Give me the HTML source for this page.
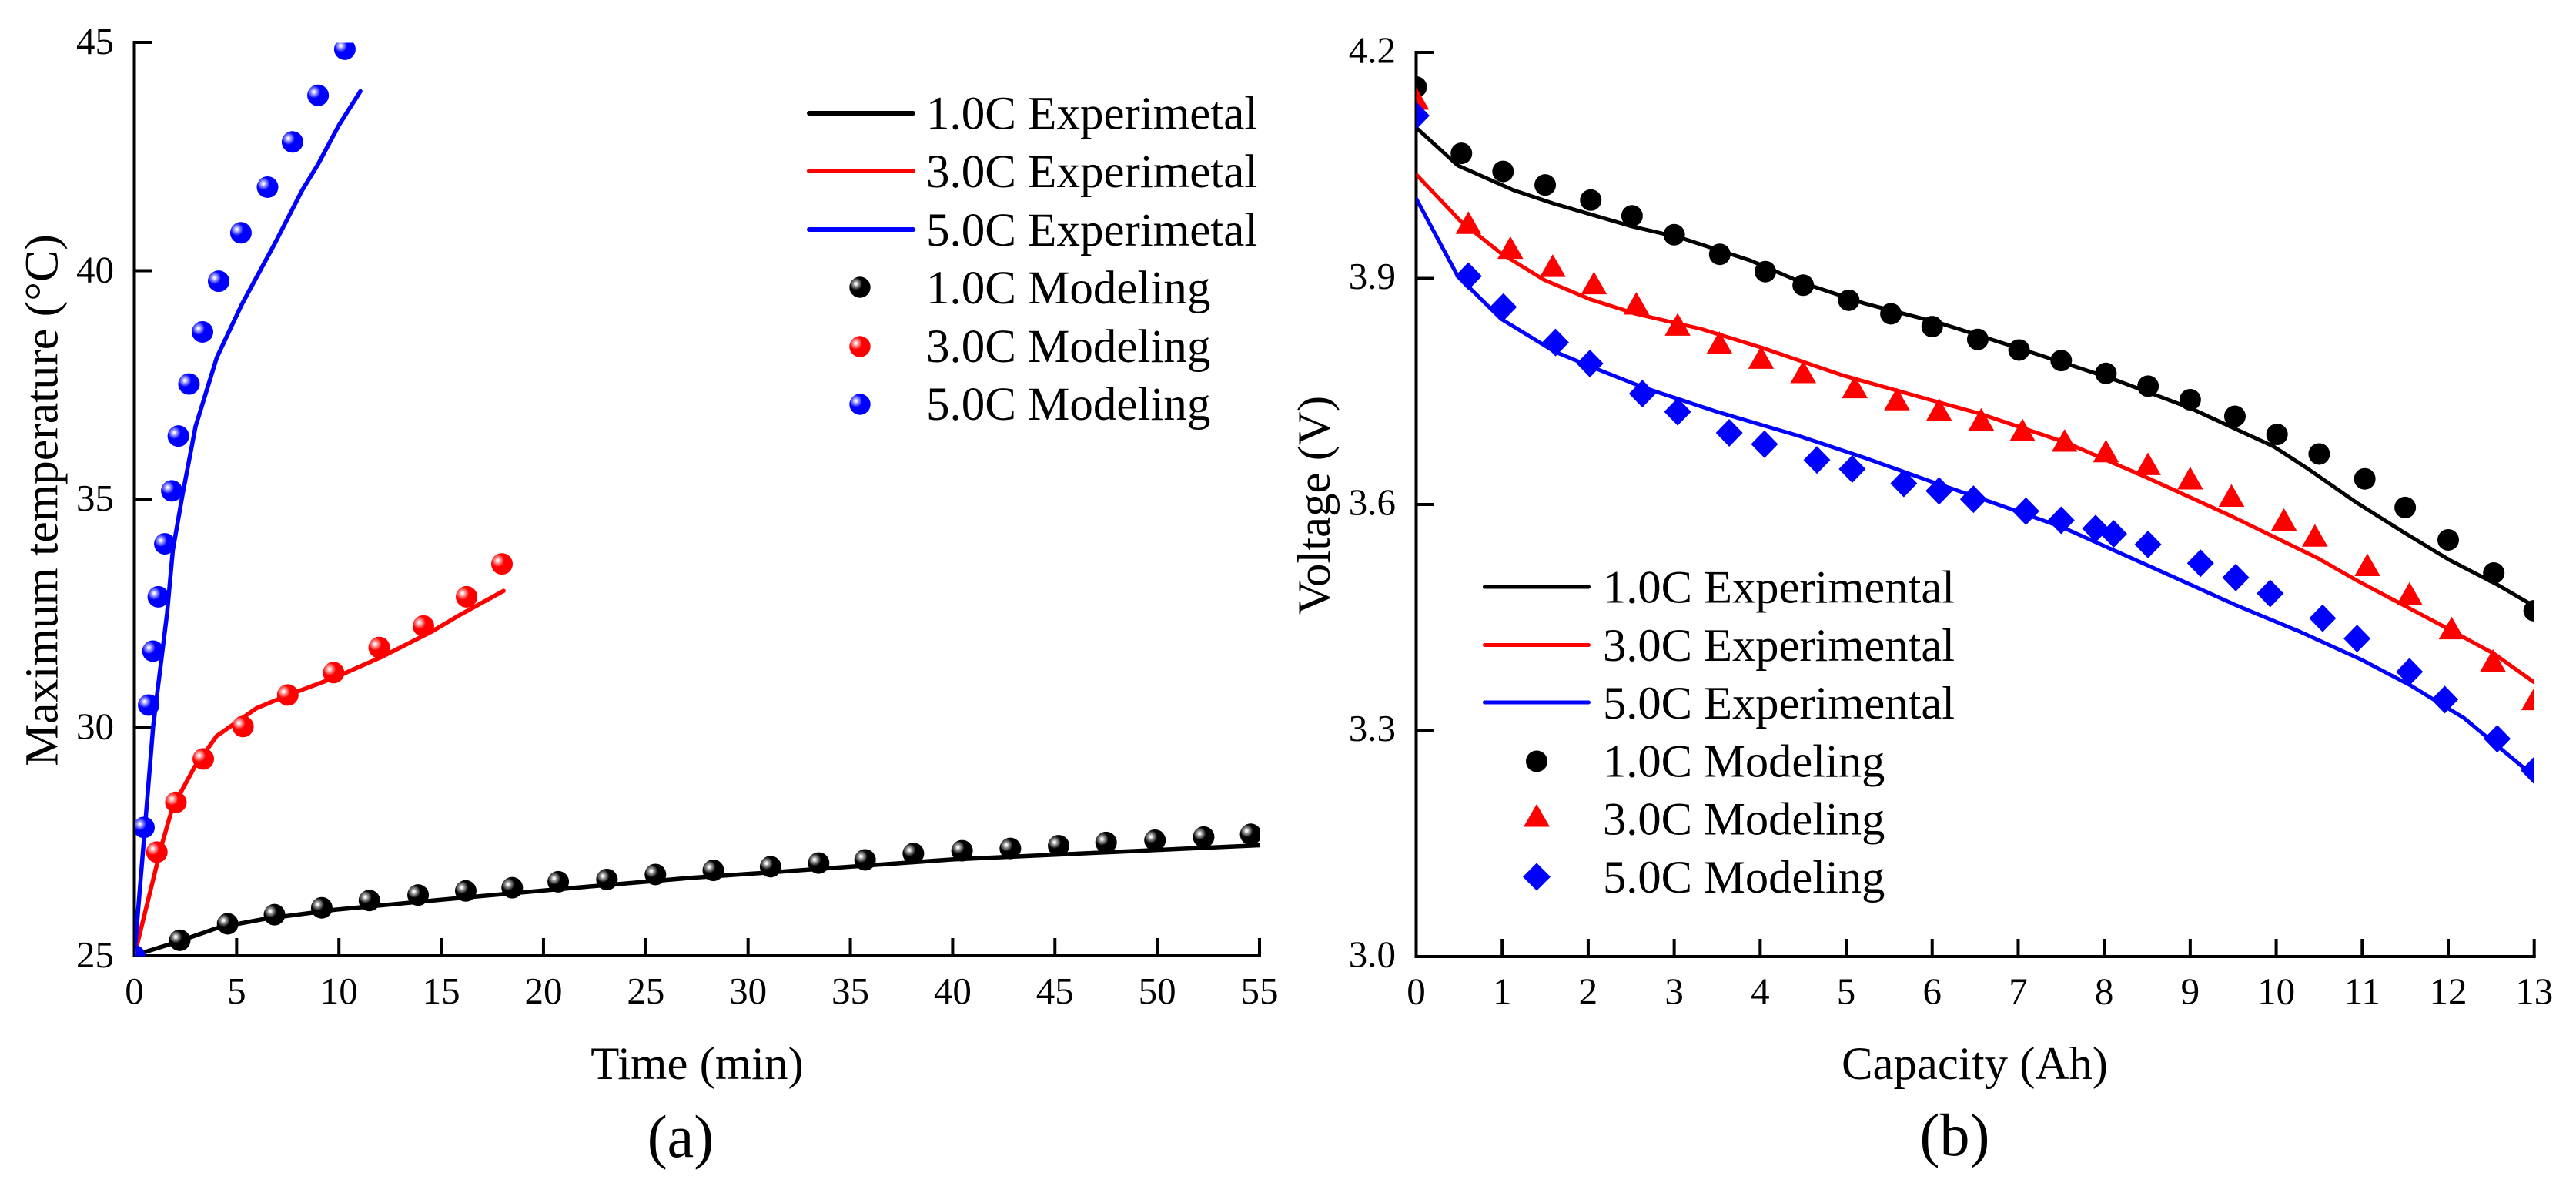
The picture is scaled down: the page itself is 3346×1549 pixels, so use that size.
<!DOCTYPE html>
<html lang="en">
<head>
<meta charset="utf-8">
<title>Temperature and voltage: experimental vs modeling</title>
<style>
html,body{margin:0;padding:0;background:#fff;width:3346px;height:1549px;overflow:hidden}
svg{display:block}
text{font-family:"Liberation Serif","Times New Roman",serif;fill:#000}
.tick{font-size:49px}
.title{font-size:60.8px}
.ytitle{font-size:61.8px}
.leg{font-size:61px}
.legb{font-size:60.5px}
.cap{font-size:78px}
</style>
</head>
<body>
<svg id="fig" xmlns="http://www.w3.org/2000/svg" width="3346" height="1549" viewBox="0 0 3346 1549">
<defs>
<radialGradient id="sphere-black" cx=".31" cy=".34" r=".62">
<stop offset="0" stop-color="#fff"/><stop offset=".09" stop-color="#eee"/><stop offset=".2" stop-color="#999"/><stop offset=".36" stop-color="#4a4a4a"/><stop offset=".48" stop-color="#000"/><stop offset="1" stop-color="#000"/>
</radialGradient>
<radialGradient id="sphere-red" cx=".31" cy=".34" r=".62">
<stop offset="0" stop-color="#fff"/><stop offset=".09" stop-color="#ffe8e8"/><stop offset=".2" stop-color="#ff9c9c"/><stop offset=".36" stop-color="#ff4a4a"/><stop offset=".48" stop-color="#f00"/><stop offset="1" stop-color="#f00"/>
</radialGradient>
<radialGradient id="sphere-blue" cx=".31" cy=".34" r=".62">
<stop offset="0" stop-color="#fff"/><stop offset=".09" stop-color="#e8e8ff"/><stop offset=".2" stop-color="#9c9cff"/><stop offset=".36" stop-color="#4a4aff"/><stop offset=".48" stop-color="#00f"/><stop offset="1" stop-color="#00f"/>
</radialGradient>
<clipPath id="clip-a"><rect x="175" y="55.5" width="1462" height="1186"/></clipPath>
<clipPath id="clip-b"><rect x="1839.5" y="68" width="1452.5" height="1174"/></clipPath>
</defs>

<g id="panel-a">
<text class="ytitle" transform="translate(74.5 649.5) rotate(-90)" text-anchor="middle">Maximum temperature (°C)</text>
<text class="title" x="905.5" y="1401" text-anchor="middle">Time (min)</text>
<text class="cap" x="884" y="1502" text-anchor="middle">(a)</text>
<g>
<g><line x1="1051" x2="1186" y1="147" y2="147" stroke="#000" stroke-width="6" stroke-linecap="round"/><text class="leg" x="1203" y="167.5">1.0C Experimetal</text></g>
<g><line x1="1051" x2="1186" y1="222" y2="222" stroke="#f00" stroke-width="6" stroke-linecap="round"/><text class="leg" x="1203" y="243">3.0C Experimetal</text></g>
<g><line x1="1051" x2="1186" y1="298" y2="298" stroke="#00f" stroke-width="6" stroke-linecap="round"/><text class="leg" x="1203" y="319">5.0C Experimetal</text></g>
<g><circle cx="1117" cy="373" r="13.7" fill="url(#sphere-black)"/><text class="leg" x="1203" y="394">1.0C Modeling</text></g>
<g><circle cx="1117" cy="450" r="13.7" fill="url(#sphere-red)"/><text class="leg" x="1203" y="470">3.0C Modeling</text></g>
<g><circle cx="1117" cy="525" r="13.7" fill="url(#sphere-blue)"/><text class="leg" x="1203" y="545">5.0C Modeling</text></g>
</g>
</g>

<g id="panel-b">
<text class="title" transform="translate(1727 656) rotate(-90)" text-anchor="middle">Voltage (V)</text>
<text class="title" x="2565" y="1401" text-anchor="middle">Capacity (Ah)</text>
<text class="cap" x="2539" y="1500" text-anchor="middle">(b)</text>
<g>
<g><line x1="1928.5" x2="2063.5" y1="762" y2="762" stroke="#000" stroke-width="5" stroke-linecap="round"/><text class="legb" x="2082" y="782.5">1.0C Experimental</text></g>
<g><line x1="1928.5" x2="2063.5" y1="837.5" y2="837.5" stroke="#f00" stroke-width="5" stroke-linecap="round"/><text class="legb" x="2082" y="858">3.0C Experimental</text></g>
<g><line x1="1928.5" x2="2063.5" y1="912" y2="912" stroke="#00f" stroke-width="5" stroke-linecap="round"/><text class="legb" x="2082" y="933">5.0C Experimental</text></g>
<g><circle cx="1996" cy="988.5" r="14" fill="#000"/><text class="legb" x="2082" y="1008.5">1.0C Modeling</text></g>
<g><polygon points="1996,1044 2013,1073.5 1979,1073.5" fill="#f00"/><text class="legb" x="2082" y="1083.5">3.0C Modeling</text></g>
<g><polygon points="1996,1120.5 2014,1138.5 1996,1156.5 1978,1138.5" fill="#00f"/><text class="legb" x="2082" y="1159">5.0C Modeling</text></g>
</g>
</g>
</svg>

<script>
/* Panel (a): time (min) vs maximum temperature (°C) */
const aXTicks = [0, 5, 10, 15, 20, 25, 30, 35, 40, 45, 50, 55];
const aYTicks = [25, 30, 35, 40, 45];

const aLine1T = [0, 0.5, 2.07, 4.13, 6.39, 9.85, 15.04, 20, 27.3, 31.2, 40, 55];
const aLine1Y = [25, 25.08, 25.3, 25.62, 25.81, 26.01, 26.23, 26.43, 26.71, 26.83, 27.11, 27.42];
const aLine3T = [0, 1.32, 1.86, 2.94, 4.02, 5.97, 7.47, 9.84, 12.12, 14.5, 15.9, 18.05];
const aLine3Y = [25, 27.4, 28.24, 29.13, 29.81, 30.42, 30.7, 31.1, 31.55, 32.09, 32.46, 32.99];
const aLine5T = [0, 0.56, 0.92, 1.6, 1.88, 2.35, 2.99, 4.03, 5.25, 6.87, 8.19, 8.98, 9.99, 11.05];
const aLine5Y = [25, 28.05, 30.02, 32.5, 33.88, 35.08, 36.59, 38.1, 39.26, 40.6, 41.75, 42.33, 43.18, 43.93];

const aModel1T = [0, 2.22, 4.56, 6.85, 9.16, 11.49, 13.87, 16.2, 18.47, 20.72, 23.1, 25.47, 28.3, 31.1, 33.45, 35.72, 38.08, 40.46, 42.82, 45.18, 47.5, 49.89, 52.27, 54.57];
const aModel1Y = [25, 25.34, 25.7, 25.9, 26.05, 26.21, 26.33, 26.42, 26.49, 26.62, 26.67, 26.78, 26.87, 26.95, 27.03, 27.1, 27.24, 27.3, 27.35, 27.41, 27.48, 27.53, 27.6, 27.66];
const aModel3T = [0, 1.1, 2.03, 3.37, 5.31, 7.5, 9.74, 11.97, 14.13, 16.24, 17.97];
const aModel3Y = [25, 27.27, 28.36, 29.31, 30.02, 30.71, 31.2, 31.75, 32.22, 32.86, 33.58];
const aModel5T = [0, 0.47, 0.7, 0.91, 1.17, 1.49, 1.83, 2.15, 2.67, 3.33, 4.12, 5.21, 6.51, 7.73, 8.98, 10.29];
const aModel5Y = [25, 27.81, 30.49, 31.67, 32.86, 34.02, 35.18, 36.38, 37.52, 38.66, 39.77, 40.83, 41.83, 42.82, 43.84, 44.85];

/* Panel (b): capacity (Ah) vs voltage (V) */
const bXTicks = [0, 1, 2, 3, 4, 5, 6, 7, 8, 9, 10, 11, 12, 13];
const bYTicks = ['3.0', '3.3', '3.6', '3.9', '4.2'];

const bLine1Q = [0, 0.483, 1.133, 1.607, 2.507, 3.075, 3.88, 4.497, 5.207, 6.11, 6.88, 8.09, 9, 9.97, 10.36, 10.94, 11.47, 12.02, 12.58, 13];
const bLine1V = [4.1, 4.05, 4.017, 3.999, 3.969, 3.954, 3.924, 3.894, 3.867, 3.84, 3.812, 3.767, 3.728, 3.677, 3.648, 3.602, 3.564, 3.526, 3.493, 3.465];
const bLine3Q = [0, 0.516, 0.99, 1.489, 2.03, 2.555, 3.31, 4.02, 4.97, 5.91, 6.54, 7.56, 8.47, 9.49, 10.48, 10.94, 11.95, 12.53, 13];
const bLine3V = [4.038, 3.976, 3.933, 3.898, 3.872, 3.853, 3.833, 3.808, 3.771, 3.741, 3.721, 3.682, 3.637, 3.584, 3.529, 3.499, 3.438, 3.402, 3.364];
const bLine5Q = [0, 0.483, 0.99, 1.607, 2.03, 2.65, 3.5, 4.45, 5.21, 6, 6.64, 7.51, 8.47, 9.54, 10.26, 10.99, 11.56, 12.19, 13];
const bLine5V = [4.006, 3.903, 3.846, 3.803, 3.783, 3.755, 3.723, 3.691, 3.662, 3.63, 3.605, 3.57, 3.521, 3.466, 3.432, 3.394, 3.36, 3.316, 3.239];

const bModel1Q = [0, 0.526, 1.01, 1.5, 2.03, 2.51, 3, 3.53, 4.06, 4.5, 5.03, 5.52, 6, 6.53, 7.01, 7.5, 8.02, 8.51, 9, 9.52, 10.01, 10.5, 11.03, 11.5, 12, 12.53, 13];
const bModel1V = [4.154, 4.066, 4.042, 4.024, 4.004, 3.983, 3.958, 3.932, 3.909, 3.891, 3.871, 3.853, 3.836, 3.819, 3.805, 3.791, 3.774, 3.757, 3.739, 3.717, 3.693, 3.667, 3.634, 3.596, 3.553, 3.509, 3.459];
const bModel3Q = [0, 0.607, 1.095, 1.588, 2.067, 2.56, 3.04, 3.526, 4.01, 4.5, 5.1, 5.59, 6.08, 6.57, 7.05, 7.54, 8.02, 8.51, 9, 9.48, 10.09, 10.45, 11.06, 11.55, 12.04, 12.52, 13];
const bModel3V = [4.139, 3.974, 3.941, 3.917, 3.894, 3.867, 3.839, 3.815, 3.795, 3.776, 3.756, 3.74, 3.726, 3.713, 3.699, 3.685, 3.671, 3.654, 3.635, 3.612, 3.58, 3.559, 3.52, 3.482, 3.436, 3.393, 3.342];
const bModel5Q = [0, 0.607, 1.014, 1.62, 2.02, 2.63, 3.04, 3.64, 4.05, 4.66, 5.07, 5.67, 6.08, 6.48, 7.09, 7.5, 7.9, 8.11, 8.51, 9.12, 9.53, 9.93, 10.54, 10.94, 11.55, 11.96, 12.57, 13];
const bModel5V = [4.116, 3.903, 3.862, 3.815, 3.787, 3.747, 3.723, 3.695, 3.68, 3.659, 3.647, 3.628, 3.618, 3.607, 3.591, 3.579, 3.568, 3.561, 3.547, 3.522, 3.503, 3.482, 3.449, 3.422, 3.378, 3.341, 3.289, 3.247];

const NS = 'http://www.w3.org/2000/svg';
const panelA = document.getElementById('panel-a');
const panelB = document.getElementById('panel-b');

const ax = v => 174.5 + (v - 0) * (1636 - 174.5) / 55;
const ay = v => 1241 - (v - 25) * (1241 - 55) / 20;
const bx = v => 1839.5 + (v - 0) * (3291.7 - 1839.5) / 13;
const by = v => 1242 - (parseFloat(v) - 3) * (1242 - 68) / 1.2;

function mk(tag, parent, props) {
  const el = document.createElementNS(NS, tag);
  for (const k in props) el.setAttribute(k, props[k]);
  parent.appendChild(el);
  return el;
}
function pathFrom(xs, ys, fx, fy) {
  return xs.map((x, i) => (i ? 'L' : 'M') + fx(x).toFixed(1) + ' ' + fy(ys[i]).toFixed(1)).join('');
}
function drawAxes(parent, x0, x1, y0, y1, xTicks, yTicks, fx, fy, labelRight, tickBase, yOff) {
  const g = mk('g', parent, {stroke: '#000', 'stroke-width': 4, fill: 'none'});
  
  
  const yAxis = mk('line', g, {x1: x0, x2: x0, y1: y1 - 2, y2: y0 + 2});
  
  
  const xAxis = mk('line', g, {x1: x0 - 2, x2: x1 + 2, y1: y0, y2: y0});
  
  
  xTicks.forEach(t => {
    const tick = mk('line', g, {x1: fx(t), x2: fx(t), y1: y0, y2: y0 - 23});
    
    
    const lab = mk('text', parent, {class: 'tick', x: fx(t), y: tickBase, 'text-anchor': 'middle'});
    
    
    lab.textContent = t;
  });
  yTicks.forEach(t => {
    const tick = mk('line', g, {x1: x0, x2: x0 + 23, y1: fy(t), y2: fy(t)});
    
    
    const lab = mk('text', parent, {class: 'tick', x: labelRight, y: fy(t) + yOff, 'text-anchor': 'end'});
    
    
    lab.textContent = t;
  });
}
function drawLine(parent, name, xs, ys, fx, fy, color, clip, width) {
  const p = mk('path', parent, {d: pathFrom(xs, ys, fx, fy), fill: 'none', stroke: color, 'stroke-width': width, 'stroke-linejoin': 'round', 'stroke-linecap': 'round', 'clip-path': clip});
  
  
}
function spheres(parent, name, xs, ys, fill) {
  const g = mk('g', parent, {'clip-path': 'url(#clip-a)'});
  
  
  xs.forEach((x, i) => {
    const c = mk('circle', g, {cx: ax(x), cy: ay(ys[i]), r: 14, fill: fill});
    
    
  });
}
function markers(parent, name, xs, ys, shape, color) {
  const g = mk('g', parent, {'clip-path': 'url(#clip-b)', fill: color});
  
  
  xs.forEach((x, i) => {
    const cx = bx(x), cy = by(ys[i]);
    let m;
    if (shape === 'circle') {
      m = mk('circle', g, {cx: cx, cy: cy, r: 14});
    } else if (shape === 'triangle') {
      m = mk('polygon', g, {points: [cx, cy - 14.7, cx + 16.8, cy + 14.7, cx - 16.8, cy + 14.7].join(' ')});
    } else {
      m = mk('polygon', g, {points: [cx, cy - 18, cx + 17.5, cy, cx, cy + 18, cx - 17.5, cy].join(' ')});
    }
    
    
  });
}

drawAxes(panelA, 174.5, 1636, 1241, 55, aXTicks, aYTicks, ax, ay, 148, 1303, 14.8);
drawLine(panelA, 'line-1c-experimetal', aLine1T, aLine1Y, ax, ay, '#000', 'url(#clip-a)', 5.5);
drawLine(panelA, 'line-3c-experimetal', aLine3T, aLine3Y, ax, ay, '#f00', 'url(#clip-a)', 5.5);
drawLine(panelA, 'line-5c-experimetal', aLine5T, aLine5Y, ax, ay, '#00f', 'url(#clip-a)', 5.5);
spheres(panelA, 'points-1c-modeling', aModel1T, aModel1Y, 'url(#sphere-black)');
spheres(panelA, 'points-3c-modeling', aModel3T, aModel3Y, 'url(#sphere-red)');
spheres(panelA, 'points-5c-modeling', aModel5T, aModel5Y, 'url(#sphere-blue)');

drawAxes(panelB, 1839.5, 3291.7, 1242, 68, bXTicks, bYTicks, bx, by, 1813, 1303.5, 13.5);
drawLine(panelB, 'line-1c-experimental', bLine1Q, bLine1V, bx, by, '#000', 'url(#clip-b)', 5);
drawLine(panelB, 'line-3c-experimental', bLine3Q, bLine3V, bx, by, '#f00', 'url(#clip-b)', 5);
drawLine(panelB, 'line-5c-experimental', bLine5Q, bLine5V, bx, by, '#00f', 'url(#clip-b)', 5);
markers(panelB, 'points-1c-modeling-b', bModel1Q, bModel1V, 'circle', '#000');
markers(panelB, 'points-3c-modeling-b', bModel3Q, bModel3V, 'triangle', '#f00');
markers(panelB, 'points-5c-modeling-b', bModel5Q, bModel5V, 'diamond', '#00f');
</script>
</body>
</html>
